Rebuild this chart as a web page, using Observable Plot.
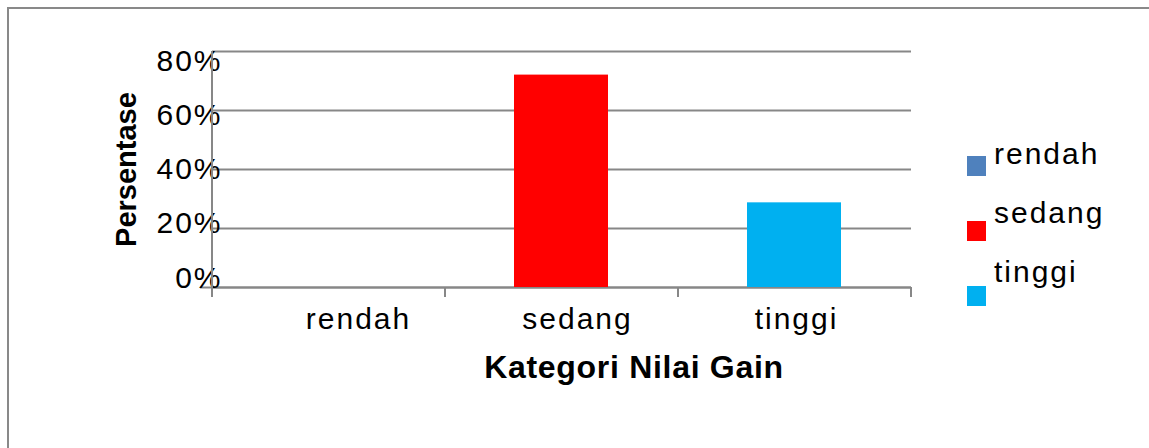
<!DOCTYPE html>
<html><head><meta charset="utf-8">
<script src="https://cdn.jsdelivr.net/npm/d3@7"></script>
<script src="https://cdn.jsdelivr.net/npm/@observablehq/plot@0.6"></script>
<style>
html,body{margin:0;padding:0;background:#fff;width:1149px;height:448px;overflow:hidden;font-family:"Liberation Sans",Arial,sans-serif;}
#frame{position:absolute;left:7px;top:7px;width:1300px;height:600px;border:2px solid #898989;box-sizing:border-box;}
#chart{position:absolute;left:0;top:0;}
#chart svg text{letter-spacing:2px;}
#chart svg g[font-weight="bold"] text{letter-spacing:0.7px;}
#legend{position:absolute;left:967px;top:156px;width:170px;height:200px;}
.swcol{position:absolute;left:0;top:0;}
.swrow{height:65px;}
.sw{width:19px;height:20px;}
.lbcol{position:absolute;left:27px;top:-17px;}
.lbrow{height:59px;font-size:30px;line-height:30px;letter-spacing:2px;color:#000;white-space:nowrap;}
</style></head><body>
<div id="frame"></div><div id="chart"></div><div id="legend"></div>
<script>
const categories = ["rendah", "sedang", "tinggi"];
const percentages = [0, 72, 28.7];
const colors = ["#4F81BD", "#FF0000", "#00B0F0"];
const yTicks = [0, 20, 40, 60, 80];
const xTitle = "Kategori Nilai Gain";
const yTitle = "Persentase";

const data = categories.map((k, i) => ({kategori: k, persen: percentages[i]}));
const W = 1149, H = 448, mL = 212, mR = 238, mT = 51, mB = 161;
const plotH = H - mT - mB;
const step = (W - mL - mR) / categories.length;
const grid = "#878787";
// tick labels in the original are laid out on a slightly compressed scale
const labelSqueeze = 0.92;
const yMid = 40;
const yPxPerUnit = plotH / 80;

const yLabelAxes = yTicks.map(t => Plot.axisY([t], {
  tickSize: 0, tickPadding: -10, tickFormat: d => d + "%", label: null, fill: "#000", fontSize: 30,
  dy: (t - yMid) * yPxPerUnit * (1 - labelSqueeze)
}));
const xLabelAxes = categories.map((c, i) => Plot.axisX([c], {
  tickSize: 0, tickPadding: 20, label: null, fill: "#000", fontSize: 30,
  dx: 30 - (1 - labelSqueeze) * step * i * 0.75
}));

const plot = Plot.plot({
  width: W, height: H,
  marginLeft: mL, marginRight: mR, marginTop: mT, marginBottom: mB,
  style: {fontFamily: '"Liberation Sans", Arial, sans-serif', fontSize: "30px", color: "#000", background: "transparent", overflow: "visible"},
  x: {domain: categories, paddingInner: 0.596, paddingOuter: 0.298, align: 0.5, axis: null},
  y: {domain: [0, 80], axis: null},
  color: {domain: categories, range: colors},
  marks: [
    Plot.gridY(yTicks, {stroke: grid, strokeWidth: 2, strokeOpacity: 1}),
    Plot.ruleY([0], {stroke: grid, strokeWidth: 2, insetLeft: -12}),
    Plot.barY(data, {x: "kategori", y: "persen", fill: "kategori"}),
    ...yLabelAxes,
    ...xLabelAxes,
    Plot.ruleX([categories[0]], {dx: -step / 2, stroke: grid, strokeWidth: 2, insetBottom: -10}),
    Plot.ruleX(categories.slice(1), {dx: -step / 2, stroke: grid, strokeWidth: 2, insetTop: plotH, insetBottom: -10}),
    Plot.ruleX([categories[categories.length - 1]], {dx: step / 2, stroke: grid, strokeWidth: 2, insetTop: plotH, insetBottom: -10}),
    Plot.text([yTitle], {frameAnchor: "left", textAnchor: "middle", rotate: -90, dx: -86, fontWeight: "bold", fontSize: 29, fill: "#000"}),
    Plot.text([xTitle], {frameAnchor: "bottom", textAnchor: "middle", lineAnchor: "top", dy: 68, dx: 72, fontWeight: "bold", fontSize: 32, fill: "#000"})
  ]
});
document.getElementById("chart").appendChild(plot);
d3.select(plot).selectAll('g[font-weight="bold"] text').filter(function() { return this.textContent === yTitle; }).style("letter-spacing", "0px");

const legend = d3.select("#legend");
const swcol = legend.append("div").attr("class", "swcol");
const lbcol = legend.append("div").attr("class", "lbcol");
categories.forEach((c, i) => {
  swcol.append("div").attr("class", "swrow").append("div").attr("class", "sw").style("background", colors[i]);
  lbcol.append("div").attr("class", "lbrow").text(c);
});
</script>
</body></html>
